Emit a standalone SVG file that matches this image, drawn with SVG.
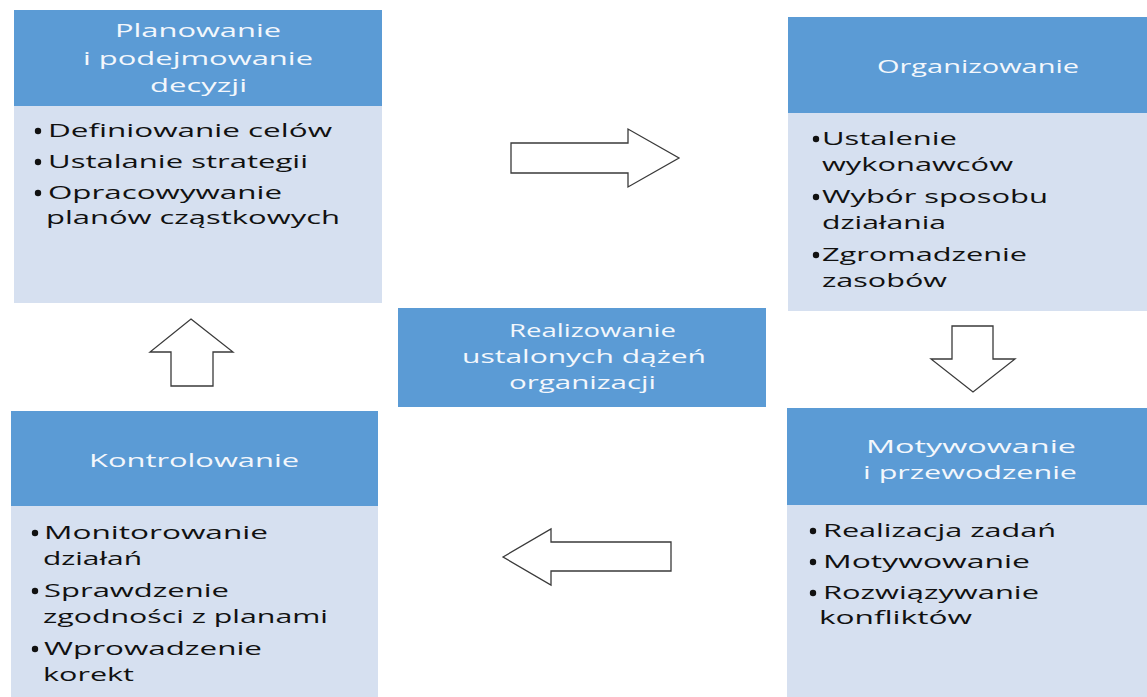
<svg xmlns="http://www.w3.org/2000/svg" width="1147" height="697" viewBox="0 0 1147 697">
<style>
.hd{fill:#5b9bd5}
.bd{fill:#d6e0f0}
.ht{font-family:"Open Sans","Lato",sans-serif;font-size:19px;font-weight:500;fill:#f3f7fc}
.bt{font-family:"Open Sans","Lato",sans-serif;font-size:19px;font-weight:500;fill:#111}
.bl{fill:#111}
.ar{fill:#fff;stroke:#3a3a3a;stroke-width:1.3;stroke-linejoin:miter}
</style>
<rect width="1147" height="697" fill="#fff"/>
<g id="planowanie">
<rect class="hd" x="14" y="10" width="368" height="96"/>
<rect class="bd" x="14" y="106" width="368" height="197"/>
<text class="ht" x="115" y="37" textLength="166" lengthAdjust="spacingAndGlyphs">Planowanie</text>
<text class="ht" x="83" y="65" textLength="230" lengthAdjust="spacingAndGlyphs">i podejmowanie</text>
<text class="ht" x="150" y="92" textLength="97" lengthAdjust="spacingAndGlyphs">decyzji</text>
<circle class="bl" cx="38" cy="131" r="3.2"/>
<text class="bt" x="48" y="137" textLength="284" lengthAdjust="spacingAndGlyphs">Definiowanie celów</text>
<circle class="bl" cx="38" cy="162" r="3.2"/>
<text class="bt" x="48" y="168" textLength="260" lengthAdjust="spacingAndGlyphs">Ustalanie strategii</text>
<circle class="bl" cx="38" cy="193" r="3.2"/>
<text class="bt" x="48" y="199" textLength="234" lengthAdjust="spacingAndGlyphs">Opracowywanie</text>
<text class="bt" x="46" y="224" textLength="294" lengthAdjust="spacingAndGlyphs">planów cząstkowych</text>
</g>
<g id="organizowanie">
<rect class="hd" x="788" y="17" width="359" height="96"/>
<rect class="bd" x="788" y="113" width="359" height="198"/>
<text class="ht" x="877" y="73" textLength="202" lengthAdjust="spacingAndGlyphs">Organizowanie</text>
<circle class="bl" cx="816" cy="139" r="3.2"/>
<text class="bt" x="822" y="145" textLength="135" lengthAdjust="spacingAndGlyphs">Ustalenie</text>
<text class="bt" x="822" y="171" textLength="191" lengthAdjust="spacingAndGlyphs">wykonawców</text>
<circle class="bl" cx="816" cy="197" r="3.2"/>
<text class="bt" x="822" y="203" textLength="226" lengthAdjust="spacingAndGlyphs">Wybór sposobu</text>
<text class="bt" x="822" y="229" textLength="124" lengthAdjust="spacingAndGlyphs">działania</text>
<circle class="bl" cx="816" cy="255" r="3.2"/>
<text class="bt" x="822" y="261" textLength="205" lengthAdjust="spacingAndGlyphs">Zgromadzenie</text>
<text class="bt" x="822" y="287" textLength="125" lengthAdjust="spacingAndGlyphs">zasobów</text>
</g>
<g id="realizowanie">
<rect class="hd" x="398" y="308" width="368" height="99"/>
<text class="ht" x="509" y="337" textLength="167" lengthAdjust="spacingAndGlyphs">Realizowanie</text>
<text class="ht" x="462" y="363" textLength="244" lengthAdjust="spacingAndGlyphs">ustalonych dążeń</text>
<text class="ht" x="509" y="389" textLength="147" lengthAdjust="spacingAndGlyphs">organizacji</text>
</g>
<g id="motywowanie">
<rect class="hd" x="787" y="408" width="360" height="97"/>
<rect class="bd" x="787" y="505" width="360" height="192"/>
<text class="ht" x="866" y="453" textLength="210" lengthAdjust="spacingAndGlyphs">Motywowanie</text>
<text class="ht" x="863" y="479" textLength="214" lengthAdjust="spacingAndGlyphs">i przewodzenie</text>
<circle class="bl" cx="813" cy="531" r="3.2"/>
<text class="bt" x="823" y="537" textLength="233" lengthAdjust="spacingAndGlyphs">Realizacja zadań</text>
<circle class="bl" cx="813" cy="562" r="3.2"/>
<text class="bt" x="823" y="568" textLength="207" lengthAdjust="spacingAndGlyphs">Motywowanie</text>
<circle class="bl" cx="813" cy="593" r="3.2"/>
<text class="bt" x="823" y="599" textLength="216" lengthAdjust="spacingAndGlyphs">Rozwiązywanie</text>
<text class="bt" x="819" y="624" textLength="153" lengthAdjust="spacingAndGlyphs">konfliktów</text>
</g>
<g id="kontrolowanie">
<rect class="hd" x="11" y="411" width="367" height="95"/>
<rect class="bd" x="11" y="506" width="367" height="191"/>
<text class="ht" x="89" y="467" textLength="210" lengthAdjust="spacingAndGlyphs">Kontrolowanie</text>
<circle class="bl" cx="35" cy="533" r="3.2"/>
<text class="bt" x="44" y="539" textLength="224" lengthAdjust="spacingAndGlyphs">Monitorowanie</text>
<text class="bt" x="43" y="565" textLength="99" lengthAdjust="spacingAndGlyphs">działań</text>
<circle class="bl" cx="35" cy="591" r="3.2"/>
<text class="bt" x="44" y="597" textLength="185" lengthAdjust="spacingAndGlyphs">Sprawdzenie</text>
<text class="bt" x="43" y="623" textLength="285" lengthAdjust="spacingAndGlyphs">zgodności z planami</text>
<circle class="bl" cx="35" cy="649" r="3.2"/>
<text class="bt" x="44" y="655" textLength="218" lengthAdjust="spacingAndGlyphs">Wprowadzenie</text>
<text class="bt" x="43" y="681" textLength="91" lengthAdjust="spacingAndGlyphs">korekt</text>
</g>
<g id="connectors">
<polygon class="ar" points="511,143 628,143 628,129 679,158 628,187 628,173 511,173"/>
<polygon class="ar" points="952,326 993,326 993,359 1015,359 973,392 931,359 952,359"/>
<polygon class="ar" points="503,557 551,529 551,542 671,542 671,571 551,571 551,585"/>
<polygon class="ar" points="191,319 233,352 213,352 213,386 171,386 171,352 150,352"/>
</g>
</svg>
